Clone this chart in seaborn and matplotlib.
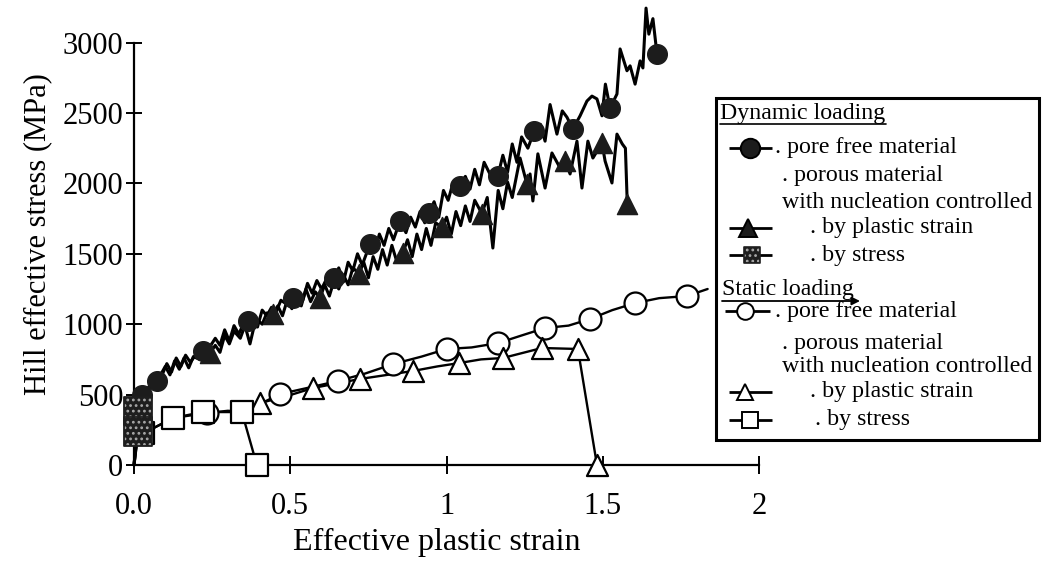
import numpy as np
import pandas as pd
import matplotlib
matplotlib.use("Agg")
import matplotlib.pyplot as plt
import seaborn as sns
from matplotlib.patches import Rectangle

# ---------------- data ----------------
# Dynamic loading, pore free material (line + filled circles)
dyn_free_x = [0, 0.025, 0.05, 0.074, 0.09, 0.105, 0.12, 0.135, 0.15, 0.165, 0.18, 0.2, 0.22, 0.24,
              0.26, 0.275, 0.29, 0.305, 0.32, 0.335, 0.35, 0.365, 0.38, 0.395, 0.41, 0.425, 0.44,
              0.455, 0.47, 0.49, 0.51, 0.525, 0.54, 0.555, 0.57, 0.585, 0.6, 0.62, 0.64, 0.655,
              0.67, 0.685, 0.7, 0.715, 0.73, 0.755, 0.77, 0.785, 0.8, 0.815, 0.83, 0.851, 0.87,
              0.885, 0.9, 0.915, 0.93, 0.944, 0.96, 0.975, 0.99, 1.005, 1.02, 1.043, 1.06, 1.075,
              1.09, 1.105, 1.12, 1.14, 1.164, 1.18, 1.195, 1.21, 1.225, 1.24, 1.26, 1.28, 1.3,
              1.315, 1.331, 1.353, 1.37, 1.385, 1.404, 1.427, 1.449, 1.465, 1.481, 1.497, 1.508,
              1.523, 1.545, 1.555, 1.577, 1.587, 1.603, 1.619, 1.628, 1.638, 1.647, 1.66, 1.673]
dyn_free_y = [0, 500, 560, 597, 640, 720, 660, 760, 700, 780, 730, 790, 810, 830,
              900, 850, 960, 880, 990, 930, 1000, 1020, 1060, 980, 1100, 1060, 1120,
              1090, 1170, 1140, 1186, 1230, 1170, 1290, 1220, 1310, 1250, 1340, 1328, 1400,
              1300, 1440, 1380, 1500, 1420, 1570, 1520, 1640, 1560, 1680, 1600, 1733, 1650,
              1760, 1690, 1800, 1720, 1790, 1870, 1760, 1950, 1880, 2000, 1982, 2050, 1960,
              2100, 1990, 2150, 2060, 2052, 2200, 2080, 2280, 2150, 2330, 2250, 2370, 2420,
              2300, 2560, 2350, 2515, 2470, 2386, 2480, 2585, 2620, 2600, 2480, 2705,
              2535, 2635, 2955, 2800, 2835, 2705, 2870, 2820, 3245, 3060, 3170, 2919]
dyn_free_mark_x = [0.025, 0.074, 0.22, 0.365, 0.51, 0.64, 0.755, 0.851, 0.944, 1.043, 1.164,
                   1.28, 1.404, 1.523, 1.673]
dyn_free_mark_y = [500, 597, 810, 1020, 1186, 1328, 1570, 1733, 1790, 1982, 2052,
                   2370, 2386, 2535, 2919]

# Dynamic loading, porous, nucleation by plastic strain (line + filled triangles)
dyn_strain_x = [0, 0.02, 0.04, 0.06, 0.08, 0.1, 0.115, 0.13, 0.145, 0.16, 0.175, 0.19, 0.21, 0.243,
                0.26, 0.275, 0.29, 0.305, 0.32, 0.34, 0.355, 0.371, 0.39, 0.41, 0.425, 0.445, 0.46,
                0.475, 0.49, 0.505, 0.52, 0.535, 0.55, 0.565, 0.58, 0.595, 0.61, 0.625, 0.64, 0.655,
                0.67, 0.685, 0.7, 0.72, 0.735, 0.75, 0.765, 0.78, 0.795, 0.81, 0.825, 0.84, 0.86,
                0.875, 0.89, 0.905, 0.92, 0.935, 0.95, 0.965, 0.985, 1.0, 1.015, 1.03, 1.045, 1.06,
                1.075, 1.09, 1.113, 1.13, 1.148, 1.165, 1.18, 1.195, 1.21, 1.235, 1.257, 1.267,
                1.276, 1.292, 1.315, 1.337, 1.363, 1.379, 1.395, 1.417, 1.433, 1.452, 1.468, 1.497,
                1.507, 1.529, 1.545, 1.562, 1.572, 1.578]
dyn_strain_y = [0, 450, 520, 580, 620, 700, 640, 740, 680, 760, 690, 770, 750, 795,
                850, 800, 920, 860, 950, 900, 990, 860, 1040, 1000, 1080, 1072, 1130,
                1060, 1170, 1110, 1200, 1130, 1250, 1160, 1230, 1186, 1280, 1200, 1310, 1250,
                1350, 1280, 1400, 1360, 1440, 1330, 1480, 1390, 1530, 1420, 1560, 1450, 1506,
                1600, 1480, 1640, 1530, 1680, 1560, 1720, 1690, 1760, 1640, 1800, 1700, 1840,
                1730, 1880, 1785, 1900, 1541, 1950, 1820, 2010, 1900, 2180, 1996, 2067,
                1875, 2210, 1967, 2216, 2110, 2159, 2067, 2300, 1967, 2300, 2180, 2287,
                2159, 2003, 2350, 2280, 2250, 1854]
dyn_strain_mark_x = [0.243, 0.445, 0.595, 0.72, 0.86, 0.985, 1.113, 1.257, 1.379, 1.497, 1.578]
dyn_strain_mark_y = [795, 1072, 1186, 1360, 1506, 1690, 1785, 1996, 2159, 2287, 1854]

# Dynamic loading, porous, nucleation by stress (dithered squares)
dyn_stress_x = [0, 0.013, 0.013]
dyn_stress_y = [0, 240, 384]
dyn_stress_mark_x = [0.013, 0.013]
dyn_stress_mark_y = [240, 384]

# Static loading, pore free material (open circles)
stat_free_x = [0.03, 0.125, 0.233, 0.3, 0.345, 0.4, 0.467, 0.55, 0.653, 0.74, 0.829, 0.92, 1.0,
               1.08, 1.165, 1.24, 1.315, 1.39, 1.459, 1.53, 1.603, 1.68, 1.769, 1.835]
stat_free_y = [225, 334, 369, 385, 380, 430, 504, 545, 597, 650, 717, 770, 824,
               835, 866, 920, 973, 990, 1037, 1100, 1150, 1185, 1200, 1250]
stat_free_mark_x = [0.233, 0.467, 0.653, 0.829, 1.0, 1.165, 1.315, 1.459, 1.603, 1.769]
stat_free_mark_y = [369, 504, 597, 717, 824, 866, 973, 1037, 1150, 1200]

# Static loading, porous, nucleation by plastic strain (open triangles)
stat_strain_x = [0.345, 0.403, 0.49, 0.573, 0.65, 0.723, 0.81, 0.893, 0.97, 1.04, 1.11, 1.18,
                 1.305, 1.42, 1.481]
stat_strain_y = [380, 440, 490, 547, 580, 611, 640, 668, 700, 724, 750, 760, 831, 824, 0]
stat_strain_mark_x = [0.403, 0.573, 0.723, 0.893, 1.04, 1.18, 1.305, 1.42, 1.481]
stat_strain_mark_y = [440, 547, 611, 668, 724, 760, 831, 824, 0]

# Static loading, porous, nucleation by stress (open squares)
stat_stress_x = [0.03, 0.125, 0.22, 0.345, 0.393]
stat_stress_y = [225, 334, 376, 376, 0]

x_ticks = [0, 0.5, 1, 1.5, 2]
x_tick_labels = ["0.0", "0.5", "1", "1.5", "2"]
y_ticks = [0, 500, 1000, 1500, 2000, 2500, 3000]
y_tick_labels = ["0", "500", "1000", "1500", "2000", "2500", "3000"]

# ---------------- style ----------------
sns.set_theme(style="white")
plt.rcParams["font.family"] = ["Liberation Serif", "DejaVu Serif"]
plt.rcParams["hatch.linewidth"] = 1.2

W, H = 1042, 566
fig = plt.figure(figsize=(W / 100, H / 100), dpi=100)

# pixel mapping of the reference: x_px = 134 + 312.6*x ; y_px = 465 - 0.1408*y
XS, X0 = 312.6, 134
YS, Y0 = 0.1408, 465
ax_left_px, ax_bottom_px = 110, 480
ax_w_px = W - ax_left_px
ax = fig.add_axes([ax_left_px / W, (H - ax_bottom_px) / H, ax_w_px / W, ax_bottom_px / H])
ax.set_xlim((ax_left_px - X0) / XS, (W - X0) / XS)
ax.set_ylim((Y0 - ax_bottom_px) / YS, Y0 / YS)
ax.set_facecolor("white")

for s in ["top", "right"]:
    ax.spines[s].set_visible(False)
ax.spines["left"].set_position(("data", 0))
ax.spines["bottom"].set_position(("data", 0))
ax.spines["left"].set_bounds(0, 3000)
ax.spines["bottom"].set_bounds(0, 2)
for s in ["left", "bottom"]:
    ax.spines[s].set_color("black")
    ax.spines[s].set_linewidth(1.6)

ax.set_xticks(x_ticks)
ax.set_xticklabels(x_tick_labels)
ax.set_yticks(y_ticks)
ax.set_yticklabels(y_tick_labels)
ax.tick_params(axis="both", which="major", direction="inout", color="black", width=1.4,
               labelsize=22, labelcolor="black", bottom=True, left=True)
ax.tick_params(axis="y", length=11.5, pad=2)
ax.tick_params(axis="x", length=13, pad=13)
ax.grid(False)

ax.set_xlabel("Effective plastic strain", fontsize=23, color="black")
ax.set_ylabel("Hill effective stress (MPa)", fontsize=22, color="black")
ax.xaxis.set_label_coords((437 - ax_left_px) / ax_w_px, (ax_bottom_px - 528) / ax_bottom_px)
ax.yaxis.set_label_coords(-(ax_left_px - 52) / ax_w_px, (ax_bottom_px - 234) / ax_bottom_px)

K = "black"
# static lines (thinner)
sns.lineplot(x=stat_free_x, y=stat_free_y, sort=False, estimator=None, color=K, lw=1.7,
             ax=ax, clip_on=False, zorder=3)
sns.lineplot(x=stat_strain_x, y=stat_strain_y, sort=False, estimator=None, color=K, lw=1.7,
             ax=ax, clip_on=False, zorder=3)
sns.lineplot(x=stat_stress_x, y=stat_stress_y, sort=False, estimator=None, color=K, lw=1.7,
             ax=ax, clip_on=False, zorder=3)
sns.scatterplot(x=stat_free_mark_x, y=stat_free_mark_y, marker="o", s=250, color="white",
                edgecolor=K, linewidth=1.6, ax=ax, clip_on=False, zorder=4)
sns.scatterplot(x=stat_strain_mark_x, y=stat_strain_mark_y, marker="^", s=230, color="white",
                edgecolor=K, linewidth=1.6, ax=ax, clip_on=False, zorder=4)
sns.scatterplot(x=stat_stress_x, y=stat_stress_y, marker="s", s=230, color="white",
                edgecolor=K, linewidth=1.6, ax=ax, clip_on=False, zorder=5)

# dynamic lines
sns.lineplot(x=dyn_strain_x, y=dyn_strain_y, sort=False, estimator=None, color=K, lw=2.2,
             ax=ax, clip_on=False, zorder=6)
sns.lineplot(x=dyn_free_x, y=dyn_free_y, sort=False, estimator=None, color=K, lw=2.2,
             ax=ax, clip_on=False, zorder=6)
sns.lineplot(x=dyn_stress_x, y=dyn_stress_y, sort=False, estimator=None, color=K, lw=2.2,
             ax=ax, clip_on=False, zorder=6)
sns.scatterplot(x=dyn_free_mark_x, y=dyn_free_mark_y, marker="o", s=200, color="#1c1c1c",
                edgecolor="#1c1c1c", linewidth=1, ax=ax, clip_on=False, zorder=7)
sns.scatterplot(x=dyn_strain_mark_x, y=dyn_strain_mark_y, marker="^", s=210, color="#1c1c1c",
                edgecolor="#1c1c1c", linewidth=1, ax=ax, clip_on=False, zorder=7)
sns.scatterplot(x=dyn_stress_mark_x, y=dyn_stress_mark_y, marker="s", s=430, color="#1e1e1e",
                edgecolor="#a8a8a8", linewidth=0.0, ax=ax, clip_on=False, zorder=8)
ax.collections[-1].set_hatch("...")
sns.scatterplot(x=dyn_stress_mark_x, y=dyn_stress_mark_y, marker="s", s=430, color="none",
                edgecolor="#1e1e1e", linewidth=1.3, ax=ax, clip_on=False, zorder=9)
ax.legend_ = None

# ---------------- legend box (pixel coordinates of the reference) ----------------
lx0, lx1, ly0, ly1 = 712, 1042, 95, 444
lg = fig.add_axes([lx0 / W, (H - ly1) / H, (lx1 - lx0) / W, (ly1 - ly0) / H])
lg.set_xlim(lx0, lx1)
lg.set_ylim(ly1, ly0)
lg.axis("off")
lg.add_patch(Rectangle((716, 98), 323, 342, facecolor="white", edgecolor=K, lw=2.2, zorder=0))

FS = 17.2
def handle(y, x0, x1, xm, marker, ms, face, edge=K, hatch=None):
    lg.plot([x0, x1], [y, y], color=K, lw=2, solid_capstyle="butt", zorder=2)
    if hatch:
        lg.scatter([xm], [y], marker=marker, s=ms ** 2, c=face, edgecolors=edge, linewidths=0,
                   hatch=hatch, zorder=3)
        lg.scatter([xm], [y], marker=marker, s=ms ** 2, c="none", edgecolors=face,
                   linewidths=1.2, zorder=4)
    else:
        lg.plot([xm], [y], marker=marker, ms=ms, mfc=face, mec=edge, mew=1.4, zorder=3)

lg.text(720, 113, "Dynamic loading", fontsize=FS, va="center", ha="left", color=K)
lg.plot([720, 886], [124, 124], color=K, lw=1.2)
handle(148, 729, 772, 750, "o", 14, "#1c1c1c")
lg.text(775, 147, ". pore free material", fontsize=FS, va="center", color=K)
lg.text(782, 175, ". porous material", fontsize=FS, va="center", color=K)
lg.text(782, 202, "with nucleation controlled", fontsize=FS, va="center", color=K)
handle(228, 729, 772, 748, "^", 13, "#1c1c1c")
lg.text(810, 228, ". by plastic strain", fontsize=FS, va="center", color=K)
handle(255, 729, 772, 752, "s", 12, "#1e1e1e", "#a8a8a8", hatch="...")
lg.text(810, 255, ". by stress", fontsize=FS, va="center", color=K)

lg.text(722, 290, "Static loading", fontsize=FS, va="center", color=K)
lg.annotate("", xy=(860, 301), xytext=(722, 301),
            arrowprops=dict(arrowstyle="-|>", color=K, lw=1.3, mutation_scale=12,
                            shrinkA=0, shrinkB=0))
handle(311, 725, 770, 745, "o", 12, "white")
lg.text(775, 311, ". pore free material", fontsize=FS, va="center", color=K)
lg.text(782, 343, ". porous material", fontsize=FS, va="center", color=K)
lg.text(782, 366, "with nucleation controlled", fontsize=FS, va="center", color=K)
handle(392, 729, 772, 745, "^", 12, "white")
lg.text(810, 392, ". by plastic strain", fontsize=FS, va="center", color=K)
handle(420, 729, 772, 750, "s", 12, "white")
lg.text(815, 420, ". by stress", fontsize=FS, va="center", color=K)

fig.savefig("out.png", dpi=100, facecolor="white")
